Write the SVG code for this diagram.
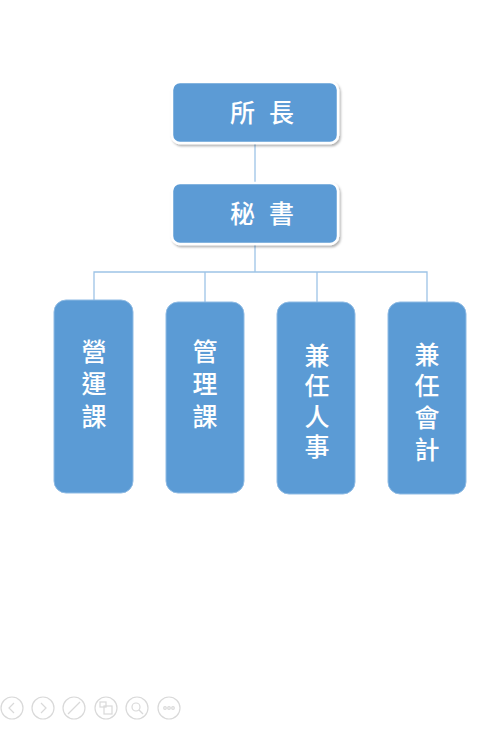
<svg xmlns="http://www.w3.org/2000/svg" width="498" height="729" viewBox="0 0 498 729">
<defs>
<filter id="sh" x="-10%" y="-10%" width="130%" height="140%">
<feDropShadow dx="1.5" dy="2" stdDeviation="1.2" flood-color="#000" flood-opacity="0.3"/>
</filter>
</defs>
<style>
.top{fill:#5b9bd5;stroke:#ffffff;stroke-width:2.5;filter:url(#sh)}
.sub{fill:#5b9bd5;stroke:#8fbbe4;stroke-width:1}
.t{font-family:"Noto Sans CJK TC","Noto Sans CJK SC",sans-serif;font-size:25px;font-weight:500;fill:#ffffff;text-anchor:middle;dominant-baseline:central}
.v{font-family:"Noto Sans CJK TC","Noto Sans CJK SC",sans-serif;font-size:25px;font-weight:500;fill:#ffffff;writing-mode:vertical-rl;text-anchor:start}
.c{fill:none;stroke:#9dc3e6;stroke-width:1.3}
.ic{fill:none;stroke:#d9d9d9;stroke-width:1.2}
</style>
<rect width="498" height="729" fill="#ffffff"/>
<g id="connectors">
<line class="c" x1="255" y1="143" x2="255" y2="183"/>
<line class="c" x1="255" y1="244" x2="255" y2="272"/>
<polyline class="c" points="94,300 94,272 427,272 427,302"/>
<line class="c" x1="205" y1="272" x2="205" y2="302"/>
<line class="c" x1="317" y1="272" x2="317" y2="302"/>
</g>
<g id="node-director">
<rect class="top" x="172" y="82" width="166" height="61" rx="8"/>
<text class="t" x="242.5" y="111">所</text>
<text class="t" x="281.5" y="111">長</text>
</g>
<g id="node-secretary">
<rect class="top" x="172" y="183" width="166" height="61" rx="8"/>
<text class="t" x="242.5" y="212">秘</text>
<text class="t" x="281.5" y="212">書</text>
</g>
<g id="node-operations">
<rect class="sub" x="54" y="300" width="79" height="193" rx="12"/>
<text class="v" x="94" y="338.5" letter-spacing="7.5">營運課</text>
</g>
<g id="node-management">
<rect class="sub" x="166" y="302" width="78" height="191" rx="12"/>
<text class="v" x="205" y="338.5" letter-spacing="7.5">管理課</text>
</g>
<g id="node-personnel">
<rect class="sub" x="277" y="302" width="78" height="192" rx="12"/>
<text class="v" x="317" y="342.5" letter-spacing="5.5">兼任人事</text>
</g>
<g id="node-accounting">
<rect class="sub" x="388" y="302" width="78" height="192" rx="12"/>
<text class="v" x="427" y="341.5" letter-spacing="6.7">兼任會計</text>
</g>
<g id="toolbar">
<circle class="ic" cx="12" cy="708" r="11"/>
<polyline class="ic" points="14,703 9,708 14,713"/>
<circle class="ic" cx="43" cy="708" r="11"/>
<polyline class="ic" points="41,703 46,708 41,713"/>
<circle class="ic" cx="74" cy="708" r="11"/>
<line class="ic" x1="68" y1="714" x2="80" y2="702"/>
<circle class="ic" cx="106" cy="708" r="11"/>
<rect class="ic" x="100" y="702" width="6" height="5"/>
<rect class="ic" x="104" y="706" width="8" height="8"/>
<circle class="ic" cx="137" cy="708" r="11"/>
<circle class="ic" cx="136" cy="707" r="4"/>
<line class="ic" x1="139" y1="710" x2="143" y2="714"/>
<circle class="ic" cx="169" cy="708" r="11"/>
<circle class="ic" cx="165" cy="708" r="1.3"/>
<circle class="ic" cx="169" cy="708" r="1.3"/>
<circle class="ic" cx="173" cy="708" r="1.3"/>
</g>
</svg>
